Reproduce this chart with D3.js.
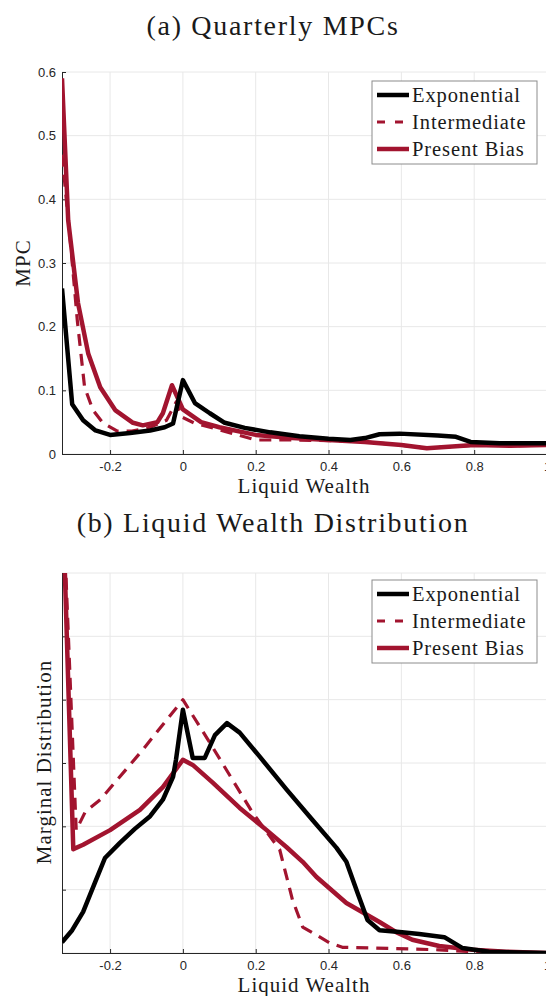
<!DOCTYPE html>
<html>
<head>
<meta charset="utf-8">
<script src="https://cdn.jsdelivr.net/npm/d3@7"></script>
<style>
  body { margin: 0; background: #fff; }
  .tick text { font-family: "Liberation Sans", Arial, sans-serif; font-size: 13px; fill: #262626; }
  .lbl { font-family: "Liberation Serif", "DejaVu Serif", serif; fill: #1a1a1a; }
</style>
</head>
<body>
<div id="chart"></div>
<script>
// Panel (a): quarterly MPCs
const mpcExpX = [-0.332, -0.304, -0.274, -0.24, -0.2, -0.145, -0.09, -0.05, -0.027, 0, 0.033, 0.074, 0.115, 0.17, 0.24, 0.32, 0.40, 0.46, 0.50, 0.54, 0.595, 0.70, 0.75, 0.79, 0.87, 1.0];
const mpcExpY = [0.26, 0.078, 0.053, 0.037, 0.030, 0.033, 0.037, 0.042, 0.048, 0.116, 0.08, 0.064, 0.049, 0.041, 0.034, 0.028, 0.024, 0.022, 0.025, 0.031, 0.032, 0.029, 0.027, 0.019, 0.017, 0.017];

const mpcIntX = [-0.332, -0.31, -0.29, -0.27, -0.247, -0.22, -0.18, -0.14, -0.09, -0.045, -0.018, -0.003, 0.03, 0.1, 0.2, 0.3, 0.4, 0.5, 0.6, 0.67, 0.8, 0.9, 1.0];
const mpcIntY = [0.47, 0.34, 0.21, 0.105, 0.069, 0.049, 0.036, 0.036, 0.042, 0.053, 0.082, 0.058, 0.049, 0.038, 0.022, 0.022, 0.021, 0.019, 0.014, 0.009, 0.014, 0.013, 0.014];

const mpcPbX = [-0.332, -0.315, -0.288, -0.26, -0.227, -0.186, -0.137, -0.11, -0.07, -0.055, -0.03, 0, 0.05, 0.1, 0.2, 0.3, 0.4, 0.5, 0.6, 0.67, 0.8, 0.9, 1.0];
const mpcPbY = [0.59, 0.367, 0.237, 0.158, 0.105, 0.069, 0.049, 0.045, 0.05, 0.064, 0.108, 0.07, 0.05, 0.042, 0.030, 0.025, 0.022, 0.019, 0.014, 0.009, 0.014, 0.013, 0.014];

// Panel (b): liquid wealth distribution (arbitrary units, 6 grid steps)
const distExpX = [-0.332, -0.304, -0.274, -0.241, -0.214, -0.173, -0.132, -0.09, -0.055, -0.027, -0.019, 0, 0.027, 0.06, 0.088, 0.121, 0.156, 0.211, 0.285, 0.356, 0.422, 0.449, 0.479, 0.507, 0.54, 0.595, 0.649, 0.718, 0.767, 0.841, 1.0];
const distExpY = [0.17, 0.36, 0.65, 1.12, 1.50, 1.74, 1.96, 2.16, 2.42, 2.78, 3.05, 3.84, 3.08, 3.08, 3.44, 3.63, 3.48, 3.10, 2.58, 2.10, 1.66, 1.44, 0.96, 0.52, 0.36, 0.33, 0.30, 0.25, 0.08, 0.02, 0.0];

const distIntX = [-0.332, -0.293, -0.268, -0.227, -0.11, 0, 0.074, 0.192, 0.266, 0.301, 0.329, 0.403, 0.438, 0.521, 0.704, 0.795, 1.0];
const distIntY = [7.5, 1.94, 2.23, 2.42, 3.21, 4.0, 3.32, 2.21, 1.63, 0.84, 0.41, 0.16, 0.09, 0.08, 0.05, 0.02, 0.0];

const distPbX = [-0.332, -0.301, -0.274, -0.2, -0.118, -0.055, 0, 0.027, 0.082, 0.156, 0.23, 0.285, 0.329, 0.367, 0.449, 0.54, 0.586, 0.63, 0.704, 0.795, 0.888, 1.0];
const distPbY = [7.5, 1.64, 1.71, 1.94, 2.26, 2.62, 3.05, 2.97, 2.69, 2.29, 1.94, 1.67, 1.44, 1.20, 0.79, 0.49, 0.33, 0.21, 0.11, 0.05, 0.02, 0.0];

const xTicks = [-0.2, 0, 0.2, 0.4, 0.6, 0.8, 1];
const mpcTicks = [0, 0.1, 0.2, 0.3, 0.4, 0.5, 0.6];
const distTicks = [0, 1, 2, 3, 4, 5, 6];
const seriesNames = ["Exponential", "Intermediate", "Present Bias"];

const W = 546, H = 996;
const red = "#A2142F";
const styles = [
  { color: "#000", dash: null },
  { color: red, dash: "12,8" },
  { color: red, dash: null }
];

const svg = d3.select("#chart").append("svg")
  .attr("width", W)
  .attr("height", H);

function panel(cfg) {
  const x = d3.scaleLinear().domain([-0.332, 1]).range([62, 547]);
  const y = d3.scaleLinear().domain(cfg.yDomain).range([cfg.bottom, cfg.top]);
  const g = svg.append("g");

  // grid
  g.selectAll(".gx").data(xTicks).enter().append("line")
    .attr("x1", d => x(d)).attr("x2", d => x(d))
    .attr("y1", cfg.top).attr("y2", cfg.bottom)
    .attr("stroke", "#e8e8e8");
  g.selectAll(".gy").data(cfg.yTicks).enter().append("line")
    .attr("x1", 62).attr("x2", W)
    .attr("y1", d => y(d)).attr("y2", d => y(d))
    .attr("stroke", "#e8e8e8");

  // axes
  const xa = g.append("g").attr("transform", `translate(0,${cfg.bottom})`)
    .call(d3.axisBottom(x).tickValues(xTicks).tickSizeInner(-4).tickSizeOuter(0)
      .tickPadding(8).tickFormat(d => String(d)));
  const ya = g.append("g").attr("transform", "translate(62,0)")
    .call(d3.axisLeft(y).tickValues(cfg.yTicks).tickSizeInner(-4).tickSizeOuter(0)
      .tickPadding(6).tickFormat(cfg.yFormat));
  [xa, ya].forEach(a => {
    a.select(".domain").attr("stroke", "#262626");
    a.selectAll(".tick line").attr("stroke", "#262626");
  });

  // lines
  const clipId = "clip" + cfg.id;
  svg.append("clipPath").attr("id", clipId).append("rect")
    .attr("x", 62).attr("y", cfg.top).attr("width", W - 62).attr("height", cfg.bottom - cfg.top);
  const line = d3.line().x(d => x(d[0])).y(d => y(d[1]));
  const lg = g.append("g").attr("clip-path", `url(#${clipId})`);
  cfg.series.slice().reverse().forEach((s, i) => {
    const st = styles[2 - i];
    lg.append("path")
      .datum(d3.zip(s[0], s[1]))
      .attr("d", line)
      .attr("fill", "none")
      .attr("stroke", st.color)
      .attr("stroke-width", st.dash ? 3.2 : 4.5)
      .attr("stroke-dasharray", st.dash)
      .attr("stroke-linejoin", "round");
  });

  // legend
  const lx = 372, ly = cfg.legendTop;
  g.append("rect").attr("x", lx).attr("y", ly).attr("width", 165).attr("height", 83)
    .attr("fill", "#fff").attr("stroke", "#8c8c8c").attr("stroke-width", 1);
  seriesNames.forEach((n, i) => {
    const yy = ly + 14 + i * 27;
    g.append("line").attr("x1", 377).attr("x2", 409).attr("y1", yy).attr("y2", yy)
      .attr("stroke", styles[i].color)
      .attr("stroke-width", styles[i].dash ? 3.2 : 4.5)
      .attr("stroke-dasharray", styles[i].dash ? "8,10" : null);
    g.append("text").attr("class", "lbl").attr("x", 412).attr("y", yy + 7)
      .attr("font-size", 20.5).attr("letter-spacing", 0.9).text(n);
  });

  // labels
  svg.append("text").attr("class", "lbl").attr("x", 273).attr("y", cfg.titleY)
    .attr("text-anchor", "middle").attr("font-size", 28).attr("letter-spacing", 1.7).text(cfg.title);
  svg.append("text").attr("class", "lbl").attr("x", 304).attr("y", cfg.bottom + 39)
    .attr("text-anchor", "middle").attr("font-size", 21).attr("letter-spacing", 1).text("Liquid Wealth");
  svg.append("text").attr("class", "lbl")
    .attr("transform", `translate(${cfg.yLabelX},${cfg.yLabelY}) rotate(-90)`)
    .attr("text-anchor", "middle").attr("font-size", 21).attr("letter-spacing", 1).text(cfg.yLabel);
}

panel({
  id: "a", top: 72, bottom: 454, yDomain: [0, 0.6], yTicks: mpcTicks,
  yFormat: d => String(d), legendTop: 81, title: "(a) Quarterly MPCs", titleY: 35,
  yLabel: "MPC", yLabelX: 30, yLabelY: 263,
  series: [[mpcExpX, mpcExpY], [mpcIntX, mpcIntY], [mpcPbX, mpcPbY]]
});

panel({
  id: "b", top: 573, bottom: 953, yDomain: [0, 6], yTicks: distTicks,
  yFormat: () => "", legendTop: 580, title: "(b) Liquid Wealth Distribution", titleY: 532,
  yLabel: "Marginal Distribution", yLabelX: 51, yLabelY: 762,
  series: [[distExpX, distExpY], [distIntX, distIntY], [distPbX, distPbY]]
});
</script>
</body>
</html>
